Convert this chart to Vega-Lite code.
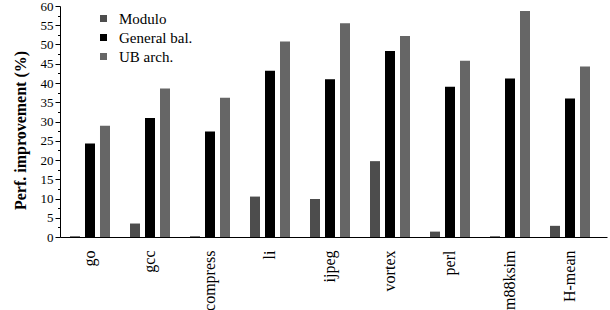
{
  "$schema": "https://vega.github.io/schema/vega-lite/v6.json",
  "width": 547,
  "height": 231,
  "autosize": {"type": "none"},
  "padding": {"left": 60, "top": 6, "right": 3, "bottom": 73},
  "background": "white",
  "config": {"view": {"stroke": null}, "font": "Liberation Serif"},
  "data": {"values": [
    {"bench": "go", "series": "Modulo", "value": 0.2},
    {"bench": "go", "series": "General bal.", "value": 24.3},
    {"bench": "go", "series": "UB arch.", "value": 28.9},
    {"bench": "gcc", "series": "Modulo", "value": 3.5},
    {"bench": "gcc", "series": "General bal.", "value": 30.9},
    {"bench": "gcc", "series": "UB arch.", "value": 38.6},
    {"bench": "compress", "series": "Modulo", "value": 0.2},
    {"bench": "compress", "series": "General bal.", "value": 27.4},
    {"bench": "compress", "series": "UB arch.", "value": 36.2},
    {"bench": "li", "series": "Modulo", "value": 10.5},
    {"bench": "li", "series": "General bal.", "value": 43.2},
    {"bench": "li", "series": "UB arch.", "value": 50.8},
    {"bench": "ijpeg", "series": "Modulo", "value": 9.9},
    {"bench": "ijpeg", "series": "General bal.", "value": 41.0},
    {"bench": "ijpeg", "series": "UB arch.", "value": 55.5},
    {"bench": "vortex", "series": "Modulo", "value": 19.7},
    {"bench": "vortex", "series": "General bal.", "value": 48.3},
    {"bench": "vortex", "series": "UB arch.", "value": 52.2},
    {"bench": "perl", "series": "Modulo", "value": 1.4},
    {"bench": "perl", "series": "General bal.", "value": 39.0},
    {"bench": "perl", "series": "UB arch.", "value": 45.8},
    {"bench": "m88ksim", "series": "Modulo", "value": 0.2},
    {"bench": "m88ksim", "series": "General bal.", "value": 41.2},
    {"bench": "m88ksim", "series": "UB arch.", "value": 58.7},
    {"bench": "H-mean", "series": "Modulo", "value": 2.9},
    {"bench": "H-mean", "series": "General bal.", "value": 36.0},
    {"bench": "H-mean", "series": "UB arch.", "value": 44.3}
  ]},
  "mark": {"type": "bar", "strokeWidth": 0},
  "encoding": {
    "x": {
      "field": "bench",
      "type": "nominal",
      "sort": ["go", "gcc", "compress", "li", "ijpeg", "vortex", "perl", "m88ksim", "H-mean"],
      "scale": {"paddingInner": 0, "paddingOuter": 0.0583, "align": 0},
      "axis": {
        "title": null,
        "labelAngle": -90,
        "labelAlign": "right",
        "labelBaseline": "middle",
        "tickSize": 0,
        "labelPadding": 13,
        "labelFont": "Liberation Serif",
        "labelFontSize": 16,
        "labelColor": "black",
        "domainColor": "black",
        "domainWidth": 1
      }
    },
    "xOffset": {
      "field": "series",
      "type": "nominal",
      "sort": ["Modulo", "General bal.", "UB arch."],
      "scale": {"paddingInner": 0.3333, "paddingOuter": 0.6667}
    },
    "y": {
      "field": "value",
      "type": "quantitative",
      "scale": {"domain": [0, 60], "nice": false},
      "axis": {
        "title": "Perf. improvement (%)",
        "titleFont": "Liberation Serif",
        "titleFontSize": 16,
        "titleFontWeight": "bold",
        "titleColor": "black",
        "titlePadding": 12,
        "titleY": 124,
        "grid": false,
        "values": [0, 2.5, 5, 7.5, 10, 12.5, 15, 17.5, 20, 22.5, 25, 27.5, 30, 32.5, 35, 37.5, 40, 42.5, 45, 47.5, 50, 52.5, 55, 57.5, 60],
        "labelExpr": "datum.value % 5 === 0 ? datum.label : ''",
        "tickSize": {"condition": {"test": "datum.value % 5 === 0", "value": 5}, "value": 2.5},
        "tickColor": "black",
        "domainColor": "black",
        "labelFont": "Liberation Serif",
        "labelFontSize": 13,
        "labelColor": "black",
        "labelPadding": 2
      }
    },
    "color": {
      "field": "series",
      "type": "nominal",
      "sort": ["Modulo", "General bal.", "UB arch."],
      "scale": {"domain": ["Modulo", "General bal.", "UB arch."], "range": ["#4d4d4d", "#000000", "#666666"]},
      "legend": {
        "title": null,
        "orient": "none",
        "legendX": 36,
        "legendY": 5,
        "padding": 0,
        "symbolType": "square",
        "symbolSize": 49,
        "symbolStrokeWidth": 0,
        "labelFont": "Liberation Serif",
        "labelFontSize": 15,
        "labelColor": "black",
        "labelOffset": 8,
        "rowPadding": 3
      }
    }
  }
}
